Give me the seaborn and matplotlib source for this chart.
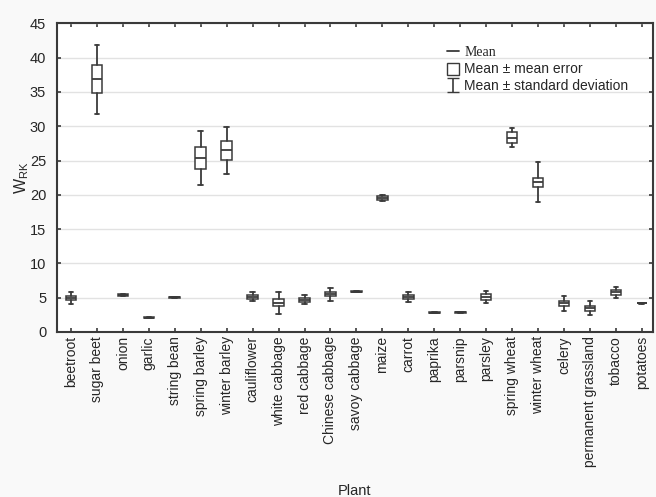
import numpy as np
import matplotlib
matplotlib.use('Agg')
import matplotlib.pyplot as plt
import seaborn as sns
from matplotlib.lines import Line2D
from matplotlib.patches import Patch

plants = ['beetroot', 'sugar beet', 'onion', 'garlic', 'string bean', 'spring barley',
          'winter barley', 'cauliflower', 'white cabbage', 'red cabbage', 'Chinese cabbage',
          'savoy cabbage', 'maize', 'carrot', 'paprika', 'parsnip', 'parsley', 'spring wheat',
          'winter wheat', 'celery', 'permanent grassland', 'tobacco', 'potatoes']
mean = [4.95, 36.85, 5.39, 2.08, 5.05, 25.4, 26.5, 5.15, 4.27, 4.68, 5.53,
        5.87, 19.56, 5.08, 2.82, 2.85, 5.1, 28.35, 21.84, 4.17, 3.47, 5.78, 4.22]
se = [0.29, 2.05, 0.08, 0.05, 0.05, 1.6, 1.4, 0.27, 0.5, 0.3, 0.31,
      0.06, 0.25, 0.3, 0.06, 0.06, 0.4, 0.75, 0.65, 0.34, 0.37, 0.35, 0.05]
sd = [0.85, 5.05, 0.12, 0.08, 0.08, 3.95, 3.4, 0.65, 1.6, 0.65, 0.95,
      0.1, 0.4, 0.68, 0.1, 0.1, 0.9, 1.4, 2.9, 1.13, 1.0, 0.8, 0.08]

sns.set_theme(style='ticks')
plt.rcParams['font.family'] = ['Liberation Sans', 'DejaVu Sans']

fig = plt.figure(figsize=(6.56, 4.97), dpi=100, facecolor='#f9f9f9')
ax = fig.add_axes([0.0873, 0.332, 0.9077, 0.621])

# box = mean +/- mean error, whiskers = mean +/- sd
stats = []
for p, m, e, s in zip(plants, mean, se, sd):
    stats.append(dict(label=p, med=m, q1=m - e, q3=m + e, whislo=m - s, whishi=m + s, fliers=[]))

edge = '#3a3a3a'
ax.bxp(stats, positions=np.arange(len(plants)), widths=0.41, patch_artist=True,
       showfliers=False,
       boxprops=dict(facecolor='white', edgecolor=edge, linewidth=1.1),
       medianprops=dict(color=edge, linewidth=1.3),
       whiskerprops=dict(color=edge, linewidth=1.3),
       capprops=dict(color=edge, linewidth=1.3), capwidths=0.18)

ax.set_xlim(-0.53, 22.42)
ax.set_ylim(0, 45)
ax.set_yticks(np.arange(0, 46, 5))
ax.set_xticks(np.arange(len(plants)))
ax.set_xticklabels(plants, rotation=90, fontsize=10)
ax.tick_params(axis='y', labelsize=10.5, pad=8)
ax.tick_params(direction='in', length=3, width=1.2, color=edge, top=True, right=True)
ax.tick_params(axis='x', pad=3)
ax.yaxis.grid(True, color='#e2e2e2', linewidth=1)
ax.set_axisbelow(True)
for sp in ax.spines.values():
    sp.set_color(edge)
    sp.set_linewidth(1.5)
ax.set_facecolor('white')

ax.set_xlabel('Plant', fontsize=10.5, labelpad=12)
ax.set_ylabel(r'W$_{\mathregular{RK}}$', fontsize=11.5, labelpad=-1)

eb = ax.errorbar([np.nan], [np.nan], yerr=[1], fmt='none', ecolor=edge, elinewidth=1.2, capsize=4)
handles = [Line2D([], [], color=edge, linewidth=1.3),
           Patch(facecolor='white', edgecolor=edge, linewidth=1),
           eb]
leg = ax.legend(handles, ['Mean', 'Mean \u00b1 mean error', 'Mean \u00b1 standard deviation'],
                loc='upper left', bbox_to_anchor=(0.645, 0.946), frameon=False, fontsize=10,
                handlelength=0.9, handleheight=0.95, handletextpad=0.35, labelspacing=0.22,
                borderaxespad=0)
leg.get_texts()[0].set_family('Liberation Serif')

fig.savefig('out.png', dpi=100, facecolor=fig.get_facecolor())
